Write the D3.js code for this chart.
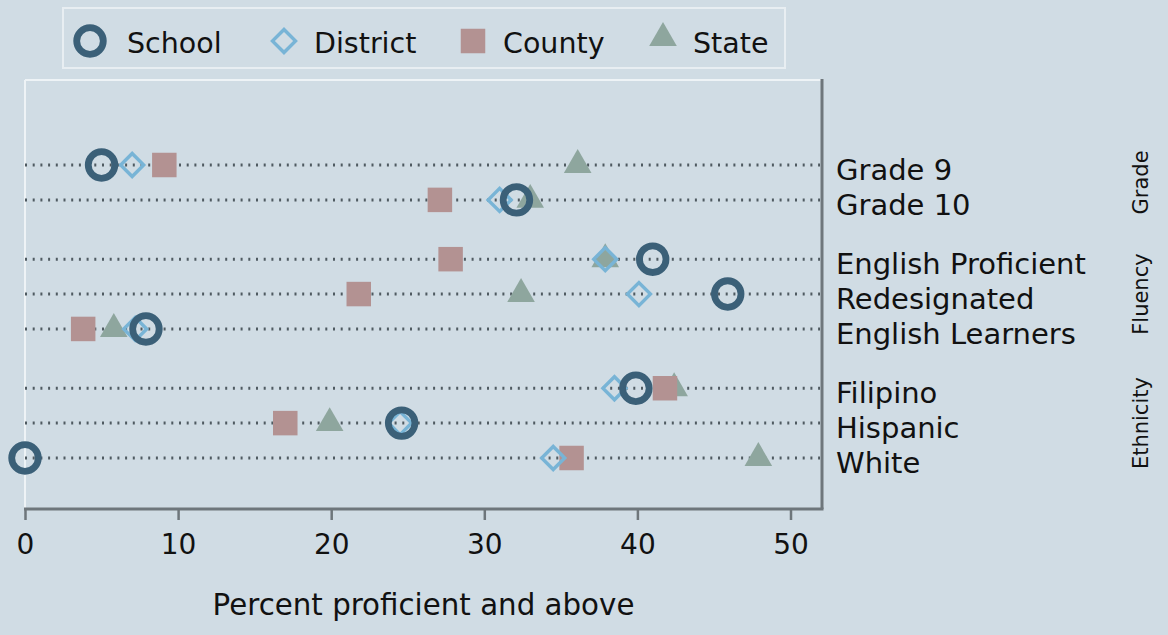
<!DOCTYPE html>
<html>
<head>
<meta charset="utf-8">
<script src="https://cdn.jsdelivr.net/npm/d3@7"></script>
<style>
  html, body { margin: 0; padding: 0; background: #d0dce4; }
  svg { display: block; font-family: 'DejaVu Sans', sans-serif; }
</style>
</head>
<body>
<svg id="chart" width="1168" height="635"></svg>
<script>
'use strict';

// ── Data ────────────────────────────────────────────────
const categories    = ['Grade 9', 'Grade 10', 'English Proficient', 'Redesignated',
                       'English Learners', 'Filipino', 'Hispanic', 'White'];
const categoryGroup = ['Grade', 'Grade', 'Fluency', 'Fluency', 'Fluency',
                       'Ethnicity', 'Ethnicity', 'Ethnicity'];
const groups        = ['Grade', 'Fluency', 'Ethnicity'];

const school   = [5.0, 32.1, 41.0, 45.9, 7.9, 39.9, 24.6, 0.0];
const district = [7.0, 31.0, 37.9, 40.1, 7.2, 38.5, 24.5, 34.5];
const county   = [9.1, 27.1, 27.8, 21.8, 3.8, 41.8, 17.0, 35.7];
const state    = [36.1, 33.0, 37.9, 32.4, 5.8, 42.4, 19.9, 47.9];

const xTicks     = [0, 10, 20, 30, 40, 50];
const xTitle     = 'Percent proficient and above';
const seriesNames = ['School', 'District', 'County', 'State'];

// ── Styles ──────────────────────────────────────────────
const BG = '#d0dce4';
const COLORS = {
  School:   '#3b6078',
  District: '#78b4d6',
  County:   '#b39292',
  State:    '#8ea69e'
};

const svg = d3.select('#chart');
svg.append('rect').attr('width', 1168).attr('height', 635).attr('fill', BG);

const plot = { left: 25, right: 822, top: 80, bottom: 509 };
const GROUP_GAP = 0.7;

// row position index: rows + extra gap between groups
const rowIndex = categories.map((c, i) => i + groups.indexOf(categoryGroup[i]) * GROUP_GAP);

const x = d3.scaleLinear().domain([0, 50]).range([25, 790.5]);
const y = d3.scaleLinear().domain([0, d3.max(rowIndex)]).range([165, 458]);

// ── Plot frame ──────────────────────────────────────────
svg.append('line')
  .attr('x1', plot.left).attr('x2', plot.right)
  .attr('y1', plot.top).attr('y2', plot.top)
  .attr('stroke', '#eef3f6').attr('stroke-width', 2);
svg.append('line')
  .attr('x1', plot.left).attr('x2', plot.left)
  .attr('y1', plot.top).attr('y2', plot.bottom)
  .attr('stroke', '#eef3f6').attr('stroke-width', 2);
svg.append('line')
  .attr('x1', plot.right).attr('x2', plot.right)
  .attr('y1', plot.top - 1).attr('y2', plot.bottom)
  .attr('stroke', '#6e767b').attr('stroke-width', 3);

// ── Dotted row lines ────────────────────────────────────
svg.append('g').selectAll('line')
  .data(categories)
  .join('line')
  .attr('x1', plot.left).attr('x2', plot.right - 2)
  .attr('y1', (d, i) => y(rowIndex[i])).attr('y2', (d, i) => y(rowIndex[i]))
  .attr('stroke', '#4f5a61')
  .attr('stroke-width', 3)
  .attr('stroke-dasharray', '2,5.7');

// ── X axis ──────────────────────────────────────────────
const xAxis = svg.append('g')
  .attr('transform', `translate(0,${plot.bottom})`)
  .call(d3.axisBottom(x).tickValues(xTicks).tickSize(11).tickPadding(14).tickFormat(d3.format('d')));
xAxis.select('.domain').remove();
xAxis.append('line')
  .attr('x1', plot.left - 1).attr('x2', plot.right + 1.5)
  .attr('stroke', '#6e767b').attr('stroke-width', 3);
xAxis.selectAll('.tick line').attr('stroke', '#6e767b').attr('stroke-width', 2.5);
xAxis.selectAll('.tick text')
  .attr('fill', '#111')
  .attr('font-size', 28)
  .attr('font-family', "'DejaVu Sans', sans-serif");

svg.append('text')
  .attr('x', (plot.left + plot.right) / 2)
  .attr('y', 615)
  .attr('text-anchor', 'middle')
  .attr('font-size', 29.3)
  .attr('fill', '#111')
  .text(xTitle);

// ── Row labels (right) ──────────────────────────────────
svg.append('g').selectAll('text')
  .data(categories)
  .join('text')
  .attr('x', 836)
  .attr('y', (d, i) => y(rowIndex[i]) + 15)
  .attr('font-size', 29)
  .attr('fill', '#111')
  .text(d => d);

// ── Group labels (rotated) ──────────────────────────────
groups.forEach(g => {
  const idx = rowIndex.filter((r, i) => categoryGroup[i] === g);
  const cy = (y(d3.min(idx)) + y(d3.max(idx))) / 2;
  svg.append('text')
    .attr('transform', `translate(1148,${cy}) rotate(-90)`)
    .attr('text-anchor', 'middle')
    .attr('font-size', 21)
    .attr('fill', '#111')
    .text(g);
});

// ── Markers ─────────────────────────────────────────────
function drawMarker(sel, name) {
  if (name === 'School') {
    sel.append('circle').attr('r', 13.3)
      .attr('fill', 'none').attr('stroke', COLORS.School).attr('stroke-width', 6.8);
  } else if (name === 'District') {
    sel.append('path')
      .attr('d', d3.symbol(d3.symbolSquare, 265)())
      .attr('transform', 'rotate(45)')
      .attr('fill', 'none').attr('stroke', COLORS.District).attr('stroke-width', 3.4);
  } else if (name === 'County') {
    sel.append('path')
      .attr('d', d3.symbol(d3.symbolSquare, 600)())
      .attr('fill', COLORS.County);
  } else {
    sel.append('path')
      .attr('d', d3.symbol(d3.symbolTriangle, 330)())
      .attr('fill', COLORS.State);
  }
}

const seriesValues = { School: school, District: district, County: county, State: state };
// drawn in reverse so School sits on top
['State', 'County', 'District', 'School'].forEach(name => {
  seriesValues[name].forEach((v, i) => {
    const g = svg.append('g')
      .attr('transform', `translate(${x(v)},${y(rowIndex[i])})`);
    drawMarker(g, name);
  });
});

// ── Legend ──────────────────────────────────────────────
svg.append('rect')
  .attr('x', 63).attr('y', 8).attr('width', 722).attr('height', 60)
  .attr('fill', 'none').attr('stroke', '#e8eef2').attr('stroke-width', 2);

const legendKeyX  = [90, 284, 473, 663];
const legendTextX = [127, 314, 503, 693];
seriesNames.forEach((name, i) => {
  const g = svg.append('g').attr('transform', `translate(${legendKeyX[i]},${name === 'State' ? 38 : 41})`);
  drawMarker(g, name);
  svg.append('text')
    .attr('x', legendTextX[i]).attr('y', 52.5)
    .attr('font-size', 28.5)
    .attr('fill', '#111')
    .text(name);
});
</script>
</body>
</html>
